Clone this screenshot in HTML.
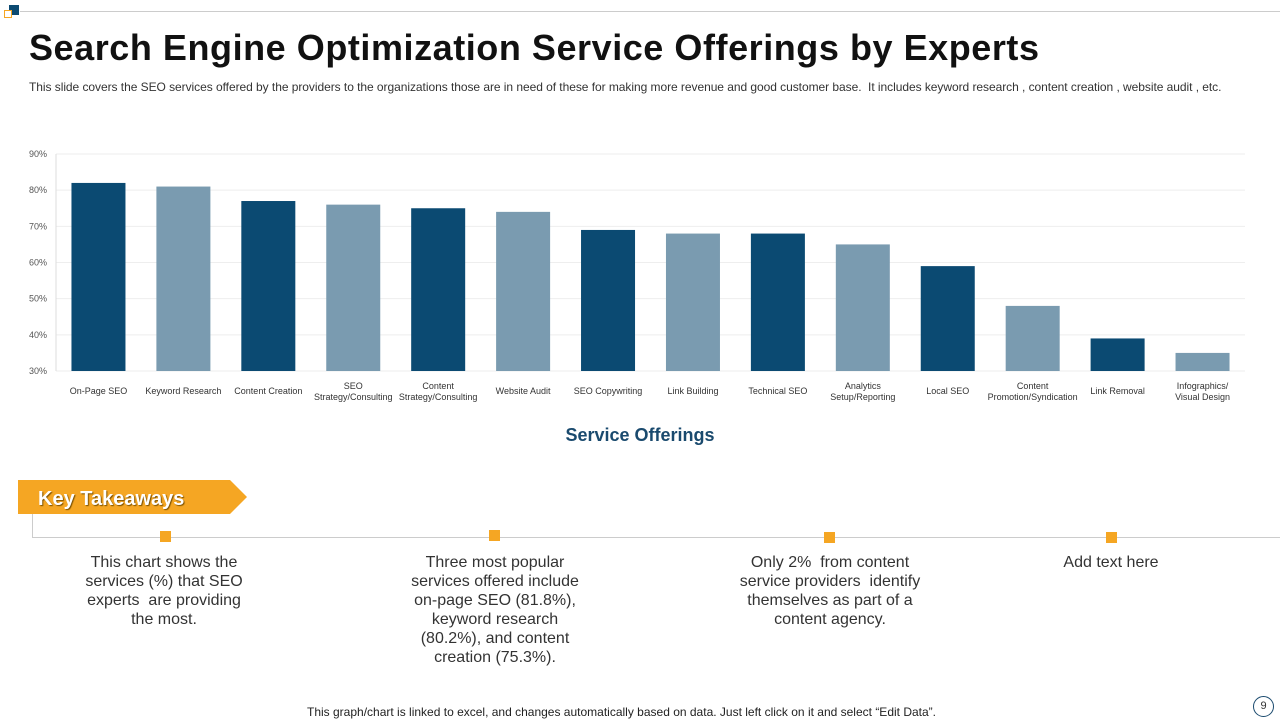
<!DOCTYPE html>
<html><head><meta charset="utf-8"><style>
body{margin:0;width:1280px;height:720px;background:#fff;font-family:"Liberation Sans",sans-serif;position:relative;overflow:hidden}
.abs{position:absolute}
.tk{position:absolute;font-size:16px;color:#333;text-align:center;line-height:19px;width:200px}
</style></head><body>
<div class="abs" style="left:20px;top:11px;width:1260px;height:1px;background:#ccc"></div>
<div class="abs" style="left:9px;top:5px;width:10px;height:10px;background:#0b4a72"></div>
<div class="abs" style="left:4px;top:10px;width:6px;height:6px;border:1px solid #f5a623;background:#fff"></div>
<div class="abs" style="left:29px;top:27px;font-size:36px;font-weight:bold;color:#111;letter-spacing:0.55px">Search Engine Optimization Service Offerings by Experts</div>
<div class="abs" style="left:29px;top:80px;font-size:12px;color:#333;letter-spacing:-0.05px">This slide covers the SEO services offered by the providers to the organizations those are in need of these for making more revenue and good customer base.&nbsp; It includes keyword research , content creation , website audit , etc.</div>
<svg class="abs" style="left:0;top:0" width="1280" height="470" id="chart"></svg>
<div class="abs" style="left:540px;top:425px;width:200px;text-align:center;font-size:18px;font-weight:bold;color:#1a4a6e">Service Offerings</div>
<svg class="abs" style="left:18px;top:480px" width="230" height="36"><polygon points="0,0 212,0 229,17 212,34 0,34" fill="#f5a623"/><text x="20" y="25" font-family="Liberation Sans,sans-serif" font-weight="bold" font-size="20" fill="#fff" style="text-shadow:1px 1px 1px #7a5000">Key Takeaways</text></svg>
<div class="abs" style="left:32px;top:514px;width:1px;height:23px;background:#ccc"></div>
<div class="abs" style="left:32px;top:537px;width:1248px;height:1px;background:#ccc"></div>
<div class="abs" style="left:160px;top:531px;width:11px;height:11px;background:#f5a623"></div>
<div class="abs" style="left:489px;top:530px;width:11px;height:11px;background:#f5a623"></div>
<div class="abs" style="left:824px;top:532px;width:11px;height:11px;background:#f5a623"></div>
<div class="abs" style="left:1106px;top:532px;width:11px;height:11px;background:#f5a623"></div>
<div class="tk" style="left:79px;top:553px;width:170px">This chart shows the services (%) that SEO experts&nbsp; are providing the most.</div>
<div class="tk" style="left:400px;top:553px;width:190px">Three most popular services offered include on-page SEO (81.8%), keyword research (80.2%), and content creation (75.3%).</div>
<div class="tk" style="left:730px;top:553px;width:200px">Only 2%&nbsp; from content service providers&nbsp; identify themselves as part of a content agency.</div>
<div class="tk" style="left:1011px;top:553px;width:200px">Add text here</div>
<div class="abs" style="left:307px;top:705px;font-size:12px;color:#222">This graph/chart is linked to excel, and changes automatically based on data. Just left click on it and select “Edit Data”.</div>
<div class="abs" style="left:1253px;top:696px;width:19px;height:19px;border:1px solid #1a4a6e;border-radius:50%;font-size:11px;text-align:center;line-height:19px;color:#333">9</div>
<script>
const categories=["On-Page SEO","Keyword Research","Content Creation","SEO|Strategy/Consulting","Content|Strategy/Consulting","Website Audit","SEO Copywriting","Link Building","Technical SEO","Analytics|Setup/Reporting","Local SEO","Content|Promotion/Syndication","Link Removal","Infographics/|Visual Design"];
const values=[82,81,77,76,75,74,69,68,68,65,59,48,39,35];
const ticks=[30,40,50,60,70,80,90];
const NS="http://www.w3.org/2000/svg";
const svg=document.getElementById('chart');
const x0=56,x1=1245,yTop=154,yBot=371,vMin=30,vMax=90;
const y=v=>yBot-(v-vMin)/(vMax-vMin)*(yBot-yTop);
const band=(x1-x0)/categories.length;
const xc=i=>x0+band*(i+0.5);
function mk(t,a){const e=document.createElementNS(NS,t);for(const k in a)e.setAttribute(k,a[k]);svg.appendChild(e);return e;}
ticks.forEach(t=>{
 const g=mk('line',{x1:x0,x2:x1,y1:y(t),y2:y(t),stroke:'#eee','stroke-width':1});
 
 
 const l=mk('text',{x:47,y:y(t)+3,'text-anchor':'end','font-size':9,fill:'#555','font-family':'Liberation Sans,sans-serif'});
 l.textContent=t+'%';
 
 
});
const ax=mk('line',{x1:x0,x2:x0,y1:yTop,y2:yBot,stroke:'#ddd'});


values.forEach((v,i)=>{
 const bw=54;
 const r=mk('rect',{x:xc(i)-bw/2,y:y(v),width:bw,height:yBot-y(v),fill:i%2?'#7a9bb0':'#0b4a72'});
 
 
 const parts=categories[i].split('|');
 const t=mk('text',{x:xc(i),'text-anchor':'middle','font-size':9,fill:'#333','font-family':'Liberation Sans,sans-serif'});
 
 
 if(parts.length==1){t.setAttribute('y',394);t.textContent=parts[0];}
 else parts.forEach((p,k)=>{const s=document.createElementNS(NS,'tspan');s.setAttribute('x',xc(i));s.setAttribute('y',389+k*11);s.textContent=p;t.appendChild(s);});
});
</script>
</body></html>
